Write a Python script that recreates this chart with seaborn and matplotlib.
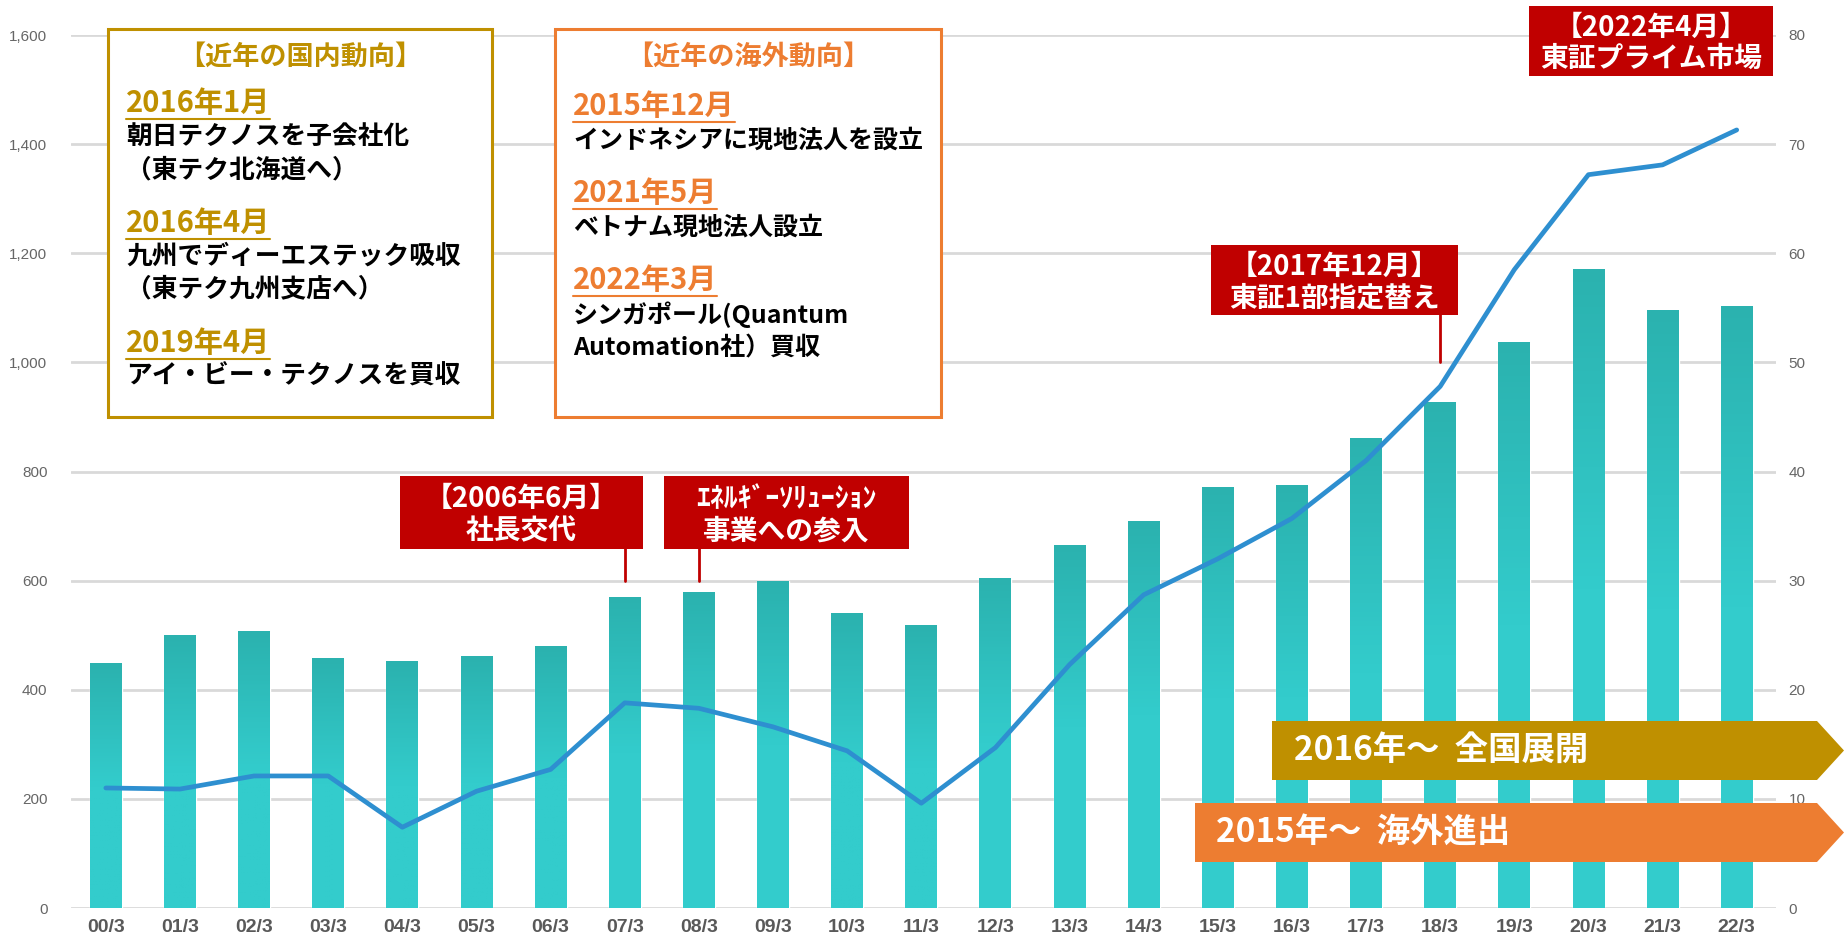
import numpy as np
import pandas as pd
import matplotlib
matplotlib.use('Agg')
import matplotlib.pyplot as plt
import seaborn as sns
from matplotlib.patches import Rectangle, Polygon
from matplotlib.colors import LinearSegmentedColormap

# data
periods = ['00/3', '01/3', '02/3', '03/3', '04/3', '05/3', '06/3', '07/3', '08/3', '09/3',
           '10/3', '11/3', '12/3', '13/3', '14/3', '15/3', '16/3', '17/3', '18/3', '19/3',
           '20/3', '21/3', '22/3']
bar_values = [448, 500, 507, 457, 451, 461, 479, 569, 578, 599,
              539, 518, 604, 664, 709, 770, 774, 860, 927, 1037,
              1171, 1095, 1102]
line_values = [11.0, 10.9, 12.1, 12.1, 7.4, 10.7, 12.7, 18.8, 18.3, 16.6,
               14.4, 9.6, 14.7, 22.3, 28.7, 32.0, 35.7, 41.0, 47.8, 58.5,
               67.2, 68.1, 71.3]
left_ticks = [0, 200, 400, 600, 800, 1000, 1200, 1400, 1600]
right_ticks = [0, 10, 20, 30, 40, 50, 60, 70, 80]

domestic_title = '【近年の国内動向】'
domestic_items = [('2016年1月', ['朝日テクノスを子会社化', '（東テク北海道へ）']),
                  ('2016年4月', ['九州でディーエステック吸収', '（東テク九州支店へ）']),
                  ('2019年4月', ['アイ・ビー・テクノスを買収'])]
overseas_title = '【近年の海外動向】'
overseas_items = [('2015年12月', ['インドネシアに現地法人を設立']),
                  ('2021年5月', ['ベトナム現地法人設立']),
                  ('2022年3月', ['シンガポール(Quantum', 'Automation社）買収'])]

GOLD = '#BF9000'
ORANGE = '#ED7D31'
RED = '#C00000'
TEAL_TOP = '#2BB2AF'
TEAL_BOT = '#33CCCC'
BLUE = '#2E8FD0'

df = pd.DataFrame({'period': periods, 'bar': bar_values, 'line': line_values})

sns.set_style('white')
plt.rcParams['font.family'] = ['Noto Sans CJK JP', 'DejaVu Sans']

W, H = 1844, 943
fig = plt.figure(figsize=(W / 100, H / 100), dpi=100)
ax = fig.add_axes([71 / W, 1 - 908 / H, (1776 - 71) / W, (908 - 35) / H])

sns.barplot(x='period', y='bar', data=df, color=TEAL_BOT, width=0.43, ax=ax, saturation=1)

# vertical gradient on each bar
cmap = LinearSegmentedColormap.from_list('teal', [TEAL_BOT, TEAL_BOT, TEAL_TOP])
grad = np.linspace(0, 1, 100).reshape(-1, 1)
for p in ax.patches:
    x0, w, h = p.get_x(), p.get_width(), p.get_height()
    ax.imshow(grad, extent=[x0, x0 + w, 0, h], origin='lower', aspect='auto',
              cmap=cmap, zorder=p.get_zorder() + 0.1)

ax.set_xlim(-0.47, 22.53)
ax.set_ylim(0, 1600)
ax.set_yticks(left_ticks)
ax.set_yticklabels([f'{v:,}' for v in left_ticks], fontfamily='Liberation Sans',
                   fontsize=11, color='#666666')
ax.set_xticks(range(len(periods)))
ax.set_xticklabels(periods, fontfamily='Liberation Sans', fontsize=14,
                   fontweight='bold', color='#595959')
ax.tick_params(axis='y', length=0, pad=17)
ax.tick_params(axis='x', length=0, pad=8)
ax.set_xlabel('')
ax.set_ylabel('')
ax.grid(axis='y', color='#D9D9D9', linewidth=2)
ax.set_axisbelow(True)
sns.despine(ax=ax, left=True, right=True, top=True, bottom=True)

# connector lines from the red call-outs
for xi, y0, y1 in [(7, 600, 700), (8, 600, 700), (18, 1000, 1200)]:
    ax.plot([xi, xi], [y0, y1], color=RED, linewidth=2, zorder=3)

ax2 = ax.twinx()
sns.lineplot(x=np.arange(len(periods)), y=df['line'], ax=ax2, color=BLUE, linewidth=3.4)
ax2.set_ylim(0, 80)
ax2.set_yticks(right_ticks)
ax2.set_yticklabels([str(v) for v in right_ticks], fontfamily='Liberation Sans',
                    fontsize=11, color='#666666')
ax2.tick_params(axis='y', length=0, pad=9)
ax2.set_ylabel('')
ax2.grid(False)
sns.despine(ax=ax2, left=True, right=True, top=True, bottom=True)

# overlay in pixel coordinates for call-outs
ov = fig.add_axes([0, 0, 1, 1])
ov.set_xlim(0, W)
ov.set_ylim(H, 0)
ov.axis('off')
ov.patch.set_alpha(0)

underlined = []


def news_box(x0, x1, color, title, items, text_x, ys, body_size):
    ov.add_patch(Rectangle((x0, 29), x1 - x0, 388, facecolor='white', edgecolor=color, linewidth=2.2))
    ov.text((x0 + x1) / 2, 57, title, ha='center', va='center', fontsize=19.5,
            fontweight='bold', color=color)
    k = 0
    for date, lines in items:
        t = ov.text(text_x, ys[k], date, ha='left', va='center', fontsize=21,
                    fontweight='bold', color=color)
        underlined.append((t, color))
        k += 1
        for ln in lines:
            ov.text(text_x, ys[k], ln, ha='left', va='center', fontsize=body_size,
                    fontweight='bold', color='black')
            k += 1


news_box(108, 492, GOLD, domestic_title, domestic_items, 126,
         [103, 137, 170, 223, 256, 289, 343, 376], 18.5)
news_box(555, 941, ORANGE, overseas_title, overseas_items, 573,
         [106, 141, 193, 228, 280, 315, 349], 18)


def red_box(x0, x1, y0, y1, lines):
    ov.add_patch(Rectangle((x0, y0), x1 - x0, y1 - y0, facecolor=RED, edgecolor='none'))
    cx = (x0 + x1) / 2
    h = y1 - y0
    ov.text(cx, y0 + h * 0.31, lines[0], ha='center', va='center', fontsize=20,
            fontweight='bold', color='white')
    ov.text(cx, y0 + h * 0.76, lines[1], ha='center', va='center', fontsize=20,
            fontweight='bold', color='white')


red_box(400, 643, 476, 549, ['【2006年6月】', '社長交代'])
red_box(664, 909, 476, 549, ['ｴﾈﾙｷﾞｰｿﾘｭｰｼｮﾝ', '事業への参入'])
red_box(1211, 1458, 245, 315, ['【2017年12月】', '東証1部指定替え'])
red_box(1529, 1773, 6, 76, ['【2022年4月】', '東証プライム市場'])


def arrow(x0, y0, y1, color, label, tx):
    pts = [(x0, y0), (1817, y0), (1844, (y0 + y1) / 2), (1817, y1), (x0, y1)]
    ov.add_patch(Polygon(pts, closed=True, facecolor=color, edgecolor='none'))
    ov.text(tx, (y0 + y1) / 2, label, ha='left', va='center', fontsize=24,
            fontweight='bold', color='white')


arrow(1272, 721, 780, GOLD, '2016年～  全国展開', 1294)
arrow(1195, 803, 862, ORANGE, '2015年～  海外進出', 1216)

# underline the dates
fig.canvas.draw()
for t, color in underlined:
    bb = t.get_window_extent()
    yb = H - bb.y0 + 1
    ov.plot([bb.x0, bb.x1], [yb, yb], color=color, linewidth=1.5)

fig.savefig('out.png', dpi=100)
